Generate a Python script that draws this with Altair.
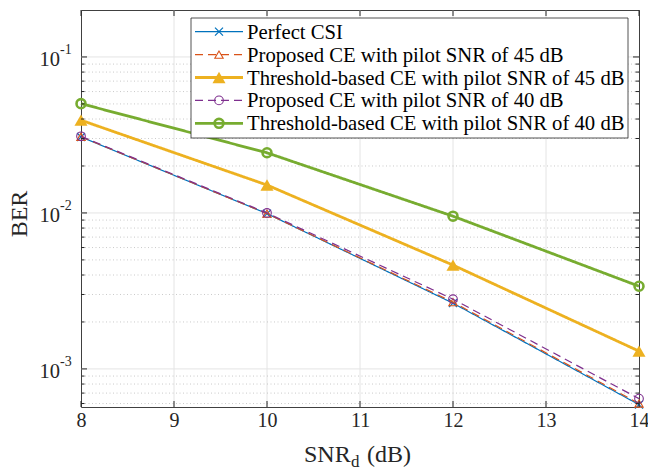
import altair as alt
import pandas as pd

# SNR of the data symbols (dB)
snr = [8, 10, 12, 14]

# Bit error rate of each scheme
perfect_csi = [0.0307, 0.0099, 0.00264, 0.00059]
proposed_45 = [0.0308, 0.0099, 0.00268, 0.00060]
threshold_45 = [0.0393, 0.0151, 0.00463, 0.00130]
proposed_40 = [0.0310, 0.0100, 0.00280, 0.000645]
threshold_40 = [0.0502, 0.0243, 0.00953, 0.00339]

series_names = [
    "Perfect CSI",
    "Proposed CE with pilot SNR of 45 dB",
    "Threshold-based CE with pilot SNR of 45 dB",
    "Proposed CE with pilot SNR of 40 dB",
    "Threshold-based CE with pilot SNR of 40 dB",
]
series_values = [perfect_csi, proposed_45, threshold_45, proposed_40, threshold_40]

# Axis ticks
x_ticks = [8, 9, 10, 11, 12, 13, 14]
y_major = [1e-3, 1e-2, 1e-1]
y_exponents = ["-3", "-2", "-1"]
y_minor = [6e-4, 7e-4, 8e-4, 9e-4,
           2e-3, 3e-3, 4e-3, 5e-3, 6e-3, 7e-3, 8e-3, 9e-3,
           2e-2, 3e-2, 4e-2, 5e-2, 6e-2, 7e-2, 8e-2, 9e-2]

W, H = 558, 397
FONT = "Times New Roman, Liberation Serif, serif"
INK = "#262626"

# Line / marker styles in MATLAB default colour order
styles = [
    dict(color="#0072BD", width=1.2, dash=[1, 0], shape="M-1,-1L1,1M1,-1L-1,1", size=64, filled=False, mstroke=1.2),
    dict(color="#D95319", width=1.2, dash=[8, 5], shape="triangle-up", size=70, filled=False, mstroke=1.1),
    dict(color="#EDB120", width=2.8, dash=[1, 0], shape="triangle-up", size=170, filled=True, mstroke=1.0),
    dict(color="#7E2F8E", width=1.2, dash=[8, 5], shape="circle", size=75, filled=False, mstroke=1.1),
    dict(color="#77AC30", width=2.8, dash=[1, 0], shape="circle", size=80, filled=False, mstroke=2.6),
]

x_scale = alt.Scale(domain=[8, 14], nice=False, zero=False)
y_scale = alt.Scale(type="log", domain=[5.7e-4, 0.2], nice=False)

x_axis = alt.Axis(values=x_ticks, grid=False, ticks=False, domain=False,
                  labelFont=FONT, labelFontSize=20, labelColor=INK,
                  labelPadding=3, labelFlush=False, labelOverlap=False, title=None)

xt = pd.DataFrame({"x": x_ticks})
ymaj = pd.DataFrame({"y": y_major, "e": y_exponents})
ymin = pd.DataFrame({"y": y_minor})

layers = []

# grid lines
layers.append(alt.Chart(xt[(xt.x > 8) & (xt.x < 14)]).mark_rule(color="#e4e4e4", strokeWidth=1).encode(
    x=alt.X("x:Q", scale=x_scale, axis=x_axis)))
layers.append(alt.Chart(ymin).mark_rule(color="#bdbdbd", strokeWidth=0.8, strokeDash=[1, 2.5]).encode(
    y=alt.Y("y:Q", scale=y_scale, axis=None)))
layers.append(alt.Chart(ymaj).mark_rule(color="#e4e4e4", strokeWidth=1).encode(
    y=alt.Y("y:Q", scale=y_scale, axis=None)))

# data series
for name, vals, st in zip(series_names, series_values, styles):
    df = pd.DataFrame({"x": snr, "ber": vals, "series": name})
    layers.append(alt.Chart(df).mark_line(
        color=st["color"], strokeWidth=st["width"], strokeDash=st["dash"]).encode(
        x=alt.X("x:Q", scale=x_scale, axis=x_axis),
        y=alt.Y("ber:Q", scale=y_scale, axis=None)))
    layers.append(alt.Chart(df).mark_point(
        shape=st["shape"], size=st["size"], filled=st["filled"], opacity=1,
        color=st["color"], strokeWidth=st["mstroke"]).encode(
        x=alt.X("x:Q", scale=x_scale, axis=x_axis),
        y=alt.Y("ber:Q", scale=y_scale, axis=None)))

# inward ticks on all four sides
for x0, x1, d in [(0, 6, ymaj), (W - 6, W, ymaj), (0, 3.5, ymin), (W - 3.5, W, ymin)]:
    layers.append(alt.Chart(d).mark_rule(color=INK, strokeWidth=1).encode(
        y=alt.Y("y:Q", scale=y_scale, axis=None), x=alt.value(x0), x2=alt.value(x1)))
for y0, y1 in [(H, H - 6), (0, 6)]:
    layers.append(alt.Chart(xt).mark_rule(color=INK, strokeWidth=1).encode(
        x=alt.X("x:Q", scale=x_scale, axis=x_axis), y=alt.value(y0), y2=alt.value(y1)))

# y tick labels as 10 with a raised exponent
layers.append(alt.Chart(ymaj).mark_text(font=FONT, fontSize=20.5, color=INK, align="right",
                                        baseline="middle", dy=3).encode(
    y=alt.Y("y:Q", scale=y_scale, axis=None), x=alt.value(-21), text=alt.value("10")))
layers.append(alt.Chart(ymaj).mark_text(font=FONT, fontSize=14, color=INK, align="left",
                                        baseline="middle", dy=-7).encode(
    y=alt.Y("y:Q", scale=y_scale, axis=None), x=alt.value(-21), text="e:N"))

# axis titles
titles = pd.DataFrame({"t": [0]})
layers.append(alt.Chart(titles).mark_text(font=FONT, fontSize=24, color=INK, angle=270,
                                          align="center", baseline="middle").encode(
    x=alt.value(-61), y=alt.value(204), text=alt.value("BER")))
layers.append(alt.Chart(titles).mark_text(font=FONT, fontSize=24, color=INK, align="left",
                                          baseline="alphabetic").encode(
    x=alt.value(223), y=alt.value(452), text=alt.value("SNR")))
layers.append(alt.Chart(titles).mark_text(font=FONT, fontSize=17, color=INK, align="left",
                                          baseline="alphabetic").encode(
    x=alt.value(270), y=alt.value(457), text=alt.value("d")))
layers.append(alt.Chart(titles).mark_text(font=FONT, fontSize=24, color=INK, align="left",
                                          baseline="alphabetic").encode(
    x=alt.value(286), y=alt.value(452), text=alt.value("(dB)")))

# legend box
layers.append(alt.Chart(titles).mark_rect(fill="white", stroke=INK, strokeWidth=0.8).encode(
    x=alt.value(110), x2=alt.value(547), y=alt.value(8), y2=alt.value(128)))

legend_df = pd.DataFrame({"series": series_names, "row": list(range(len(series_names)))})
for i, st in enumerate(styles):
    row = legend_df[legend_df.row == i]
    ly = alt.Y("ly:Q", scale=None)
    layers.append(alt.Chart(row).transform_calculate(ly="21.7 + 22.9 * datum.row").mark_rule(
        color=st["color"], strokeWidth=st["width"], strokeDash=st["dash"]).encode(
        x=alt.value(114), x2=alt.value(162), y=ly))
    layers.append(alt.Chart(row).transform_calculate(ly="21.7 + 22.9 * datum.row").mark_point(
        shape=st["shape"], size=st["size"], filled=st["filled"], opacity=1,
        color=st["color"], strokeWidth=st["mstroke"]).encode(
        x=alt.value(138), y=ly))
layers.append(alt.Chart(legend_df).transform_calculate(ly="21.7 + 22.9 * datum.row").mark_text(
    font=FONT, fontSize=20.7, color="black", align="left", baseline="middle", dy=1).encode(
    x=alt.value(166), y=alt.Y("ly:Q", scale=None), text="series:N"))

chart = alt.layer(*layers).properties(
    width=W, height=H,
    padding={"left": 81, "top": 10, "right": 648 - 81 - W, "bottom": 471 - 10 - H},
    autosize=alt.AutoSizeParams(type="none"),
    background="white",
).configure_view(stroke="#404040", strokeWidth=1)

chart.save("out.html", embed_options={"renderer": "svg", "actions": False})
